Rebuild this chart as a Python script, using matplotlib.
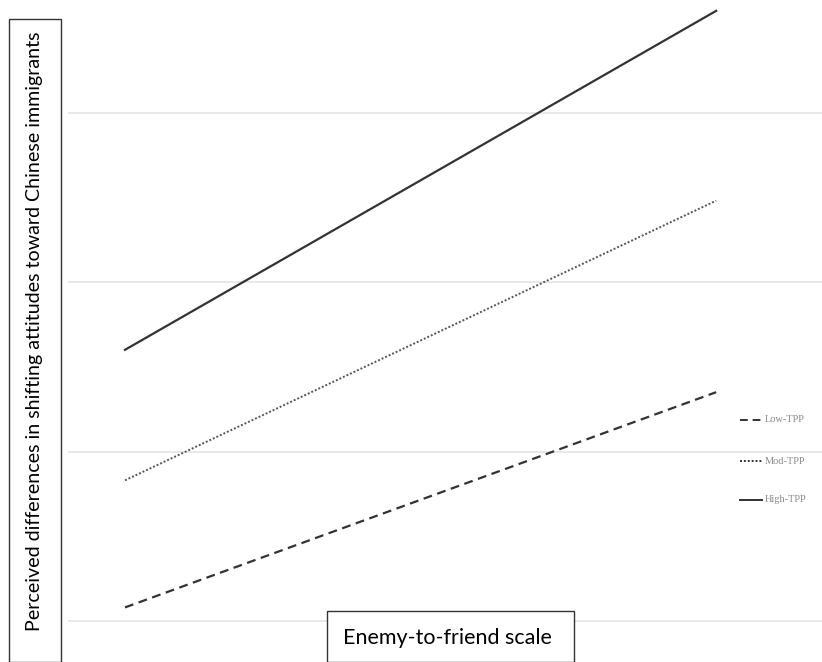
import matplotlib
matplotlib.use("Agg")
import matplotlib.pyplot as plt
from matplotlib.patches import Rectangle
from matplotlib.lines import Line2D

# Data
x_levels = [0, 1]  # low vs high enemy-to-friend
series_names = ["Low-TPP", "Mod-TPP", "High-TPP"]
low_tpp = [0.08, 1.35]
mod_tpp = [0.83, 2.48]
high_tpp = [1.60, 3.60]
grid_vals = [0, 1, 2, 3]

W, H = 822, 662
fig = plt.figure(figsize=(W / 100, H / 100), dpi=100)

ax_l, ax_r, ax_t, ax_b = 68, 822, 0, 662
ax = fig.add_axes([ax_l / W, 1 - ax_b / H, (ax_r - ax_l) / W, (ax_b - ax_t) / H])
ax.set_xlim(-0.0964, 1.179)
ax.set_ylim(-0.242, 3.664)
for s in ax.spines.values():
    s.set_visible(False)
ax.set_xticks([])
ax.set_yticks(grid_vals)
ax.tick_params(left=False, labelleft=False)
ax.grid(axis="y", color="#e4e4e4", linewidth=1.2)
ax.set_axisbelow(True)

ax.plot(x_levels, low_tpp, color="#333333", linewidth=1.6, linestyle=(0, (4, 2.5)), label="Low-TPP")
ax.plot(x_levels, mod_tpp, color="#555555", linewidth=1.4, linestyle=(0, (1, 1)), label="Mod-TPP")
ax.plot(x_levels, high_tpp, color="#333333", linewidth=1.6, linestyle="-", label="High-TPP")

# legend as manual entries (figure pixel positions)
leg_styles = [(0, (4, 2.5)), (0, (1, 1)), "-"]
leg_y = [420, 461, 500]
for name, ls, yy in zip(series_names, leg_styles, leg_y):
    fig.add_artist(Line2D([740 / W, 762 / W], [1 - yy / H, 1 - yy / H], color="#333333",
                          linewidth=1.4, linestyle=ls))
    fig.text(765 / W, 1 - yy / H, name, fontsize=7.5, family="Liberation Serif",
             color="#8a8a8a", va="center", ha="left")

# y label box
fig.add_artist(Rectangle((9 / W, 0), (61 - 9) / W, 1 - 19 / H, transform=fig.transFigure,
                         facecolor="white", edgecolor="#333333", linewidth=1))
fig.text(35 / W, 1 - 331 / H, "Perceived differences in shifting attitudes toward Chinese immigrants",
         rotation=90, fontsize=14.1, family="Lato", ha="center", va="center", color="black")

# x label box
fig.add_artist(Rectangle((327 / W, 0), (574 - 327) / W, 1 - 611 / H, transform=fig.transFigure,
                         facecolor="white", edgecolor="#333333", linewidth=1))
fig.text(447 / W, 1 - 638 / H, "Enemy-to-friend scale", fontsize=15.5, family="Lato",
         ha="center", va="center", color="black")

fig.savefig("out.png", dpi=100)
